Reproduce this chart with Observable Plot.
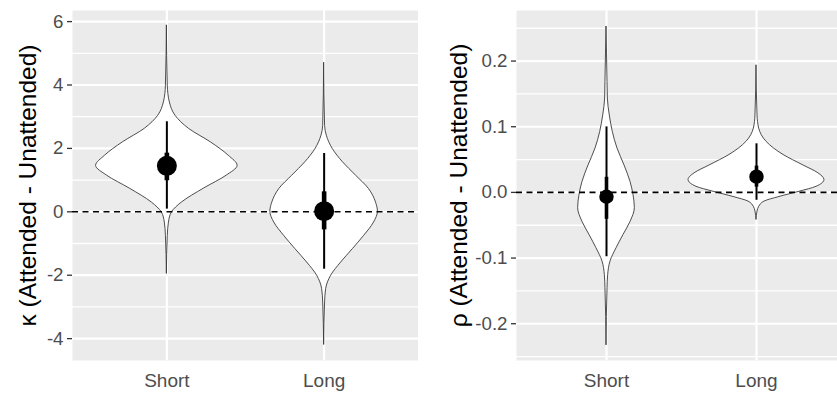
<!DOCTYPE html>
<html><head><meta charset="utf-8">
<script src="https://cdn.jsdelivr.net/npm/d3@7"></script>
<script src="https://cdn.jsdelivr.net/npm/@observablehq/plot@0.6"></script>
<style>
body{margin:0;background:#fff;}
#wrap{display:flex;width:837px;height:394px;overflow:hidden;}
#wrap svg{display:block;}
</style></head><body><div id="wrap"></div>
<script>
const categories = ["Short", "Long"];
const categoryPos = [1, 2];

// Violin profiles: [value, half-width (band units)]
const kappaShortViolin = [[5.87,0],[3.97,0.006],[3.45,0.019],[3.03,0.055],[2.62,0.14],[2.19,0.28],[1.77,0.393],[1.45,0.45],[1.14,0.38],[0.73,0.235],[0.29,0.095],[-0.02,0.032],[-0.34,0.013],[-0.76,0.006],[-1.96,0]];
const kappaLongViolin = [[4.69,0],[2.71,0.006],[2.40,0.017],[1.98,0.055],[1.56,0.12],[1.14,0.203],[0.72,0.285],[0.29,0.33],[0.0,0.342],[-0.34,0.317],[-0.76,0.254],[-1.17,0.184],[-1.6,0.108],[-2.02,0.044],[-2.43,0.013],[-2.86,0.006],[-4.2,0]];
const rhoShortViolin = [[0.252,0],[0.168,0.007],[0.143,0.009],[0.117,0.022],[0.092,0.042],[0.067,0.073],[0.041,0.12],[0.016,0.16],[-0.004,0.18],[-0.024,0.189],[-0.045,0.16],[-0.065,0.113],[-0.085,0.067],[-0.105,0.027],[-0.126,0.011],[-0.146,0.007],[-0.233,0]];
const rhoLongViolin = [[0.193,0],[0.117,0.007],[0.097,0.018],[0.077,0.067],[0.057,0.18],[0.041,0.313],[0.029,0.413],[0.019,0.453],[0.0085,0.4],[0.001,0.287],[-0.007,0.153],[-0.014,0.053],[-0.022,0.018],[-0.029,0.007],[-0.042,0]];

// Summaries: point estimate, inner interval, outer interval
const kappaMean = [1.45, 0.02];
const kappaInnerLo = [0.98, -0.57];
const kappaInnerHi = [1.85, 0.63];
const kappaOuterLo = [0.085, -1.81];
const kappaOuterHi = [2.84, 1.84];

const rhoMean = [-0.0066, 0.024];
const rhoInnerLo = [-0.041, 0.008];
const rhoInnerHi = [0.023, 0.04];
const rhoOuterLo = [-0.098, -0.012];
const rhoOuterHi = [0.0997, 0.074];

// Axis ticks and labels
const kappaTicks = [-4, -2, 0, 2, 4, 6];
const kappaTickLabels = ["-4", "-2", "0", "2", "4", "6"];
const kappaMinor = [-3, -1, 1, 3, 5];
const rhoTicks = [-0.2, -0.1, 0, 0.1, 0.2];
const rhoTickLabels = ["-0.2", "-0.1", "0.0", "0.1", "0.2"];
const rhoMinor = [-0.25, -0.15, -0.05, 0.05, 0.15, 0.25];

const kappaTitle = "κ (Attended - Unattended)";
const rhoTitle = "ρ (Attended - Unattended)";

const FONT = "'Liberation Sans', Arial, Helvetica, sans-serif";

function violinRows(profiles) {
  const rows = [];
  profiles.forEach((prof, i) => prof.forEach(([v, w]) => rows.push({g: categories[i], pos: categoryPos[i], v, w})));
  return rows;
}
function summaryRows(mean, ilo, ihi, olo, ohi) {
  return categories.map((c, i) => ({g: c, pos: categoryPos[i], m: mean[i], ilo: ilo[i], ihi: ihi[i], olo: olo[i], ohi: ohi[i]}));
}

function panel(o) {
  const vio = violinRows(o.profiles);
  const sum = summaryRows(...o.summary);
  return Plot.plot({
    width: o.width, height: 394,
    marginLeft: o.marginLeft, marginRight: 0, marginTop: 10, marginBottom: 34,
    style: {fontFamily: FONT, background: "white", overflow: "visible"},
    x: {type: "linear", domain: o.xDomain},
    y: {domain: o.yDomain},
    marks: [
      Plot.frame({fill: "#EBEBEB", stroke: null}),
      Plot.ruleY(o.minor, {stroke: "white", strokeWidth: 1.3}),
      Plot.ruleY(o.ticks, {stroke: "white", strokeWidth: 2.2}),
      Plot.ruleX(categoryPos, {stroke: "white", strokeWidth: 2.2}),
      Plot.areaX(vio, {y: "v", x1: d => d.pos - d.w, x2: d => d.pos + d.w, z: "g", fill: "white", stroke: "#3a3a3a", strokeWidth: 0.9, curve: "monotone-y"}),
      Plot.ruleY([0], {stroke: "black", strokeWidth: 1.6, strokeDasharray: "6,4.5"}),
      Plot.ruleX(sum, {x: "pos", y1: "olo", y2: "ohi", stroke: "black", strokeWidth: 2}),
      Plot.ruleX(sum, {x: "pos", y1: "ilo", y2: "ihi", stroke: "black", strokeWidth: o.thick}),
      Plot.dot(sum, {x: "pos", y: "m", r: o.r, fill: "black", stroke: null}),
      Plot.axisY(o.ticks, {tickSize: 5, tickPadding: 4, fontSize: 18.7, fill: "#4D4D4D", stroke: "#333", strokeWidth: 1.3,
        tickFormat: d => o.tickLabels[o.ticks.indexOf(d)], label: null}),
      Plot.axisX(categoryPos, {tickSize: 0, tickPadding: 13, fontSize: 19, fill: "#4D4D4D",
        tickFormat: d => categories[categoryPos.indexOf(d)], label: null}),
      Plot.text([o.title], {text: d => d, frameAnchor: "left", rotate: -90, dx: o.titleDx, fontSize: 24.5, fill: "black", textAnchor: "middle", lineAnchor: "middle"})
    ]
  });
}

const wrap = document.getElementById("wrap");
wrap.append(panel({
  width: 418, marginLeft: 72, xDomain: [0.4, 2.6], yDomain: [-4.69, 6.35],
  profiles: [kappaShortViolin, kappaLongViolin],
  summary: [kappaMean, kappaInnerLo, kappaInnerHi, kappaOuterLo, kappaOuterHi],
  ticks: kappaTicks, tickLabels: kappaTickLabels, minor: kappaMinor,
  title: kappaTitle, titleDx: -44, r: 10, thick: 4.6
}));
wrap.append(panel({
  width: 419, marginLeft: 98, xDomain: [0.4, 2.54], yDomain: [-0.256, 0.277],
  profiles: [rhoShortViolin, rhoLongViolin],
  summary: [rhoMean, rhoInnerLo, rhoInnerHi, rhoOuterLo, rhoOuterHi],
  ticks: rhoTicks, tickLabels: rhoTickLabels, minor: rhoMinor,
  title: rhoTitle, titleDx: -57, r: 7.2, thick: 3.6
}));
</script></body></html>
